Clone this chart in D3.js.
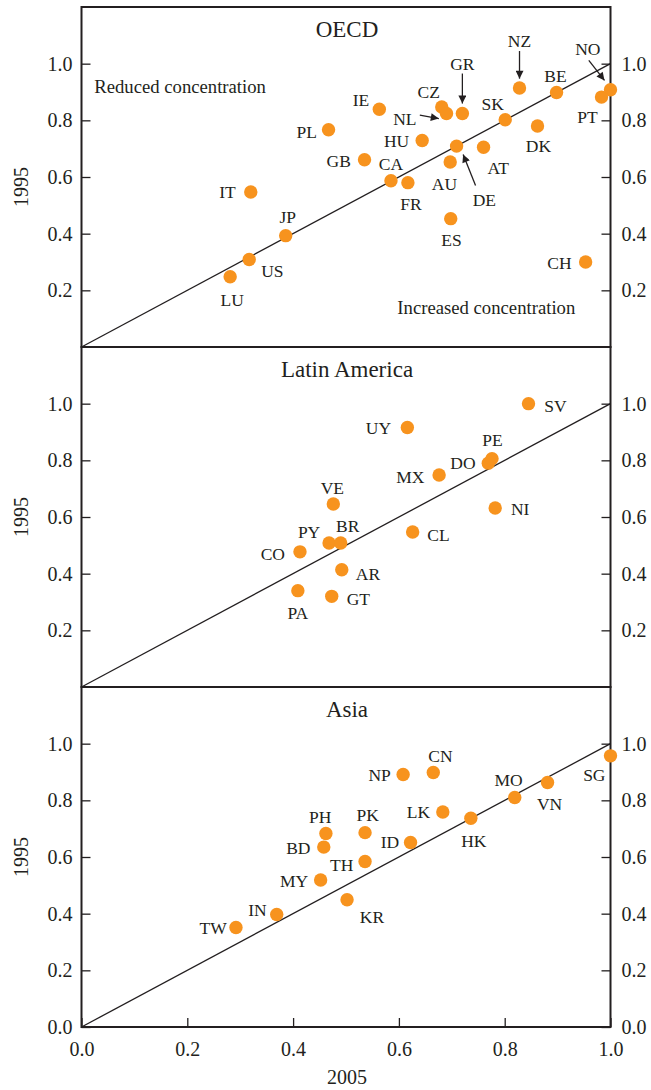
<!DOCTYPE html>
<html><head><meta charset="utf-8">
<script src="https://cdn.jsdelivr.net/npm/d3@7"></script>
<style>
html,body{margin:0;padding:0;background:#fff;}
svg text{font-family:"Liberation Serif","Times New Roman",serif;fill:#231f20;}
</style></head>
<body><svg id="chart" width="651" height="1090"></svg>
<script>
// ---------- DATA ----------
const panelTitles = ["OECD", "Latin America", "Asia"];

const oecdCodes = ["IT","JP","US","LU","PL","IE","CZ","NL","GR","NZ","BE","NO","PT","SK","DK","HU","DE","AT","GB","AU","CA","FR","ES","CH"];
const oecd2005  = [0.320,0.386,0.317,0.281,0.467,0.563,0.681,0.690,0.720,0.828,0.898,1.000,0.983,0.801,0.862,0.644,0.709,0.760,0.535,0.697,0.585,0.617,0.698,0.953];
const oecd1995  = [0.547,0.393,0.309,0.248,0.767,0.839,0.847,0.824,0.824,0.914,0.898,0.908,0.882,0.802,0.780,0.729,0.709,0.705,0.661,0.653,0.587,0.580,0.453,0.300];

const latamCodes = ["CO","PA","PY","VE","BR","AR","GT","CL","UY","MX","DO","PE","SV","NI"];
const latam2005  = [0.413,0.409,0.468,0.476,0.490,0.492,0.473,0.626,0.616,0.676,0.769,0.776,0.845,0.782];
const latam1995  = [0.477,0.340,0.508,0.646,0.508,0.414,0.320,0.547,0.916,0.748,0.790,0.806,1.000,0.632];

const asiaCodes = ["TW","IN","MY","BD","PH","PK","TH","KR","ID","NP","CN","LK","HK","MO","VN","SG"];
const asia2005  = [0.292,0.369,0.452,0.458,0.462,0.536,0.536,0.502,0.622,0.608,0.665,0.683,0.736,0.819,0.881,1.000];
const asia1995  = [0.351,0.397,0.519,0.635,0.683,0.686,0.584,0.449,0.651,0.891,0.898,0.759,0.737,0.810,0.863,0.957];

const xTicks = [0.0,0.2,0.4,0.6,0.8,1.0];
const yTicks = [0.2,0.4,0.6,0.8,1.0];
const yTicksBottom = [0.0,0.2,0.4,0.6,0.8,1.0];
const xLabel = "2005", yLabel = "1995";
const noteReduced = "Reduced concentration", noteIncreased = "Increased concentration";

// ---------- LAYOUT (label placement, separate from data) ----------
const labelPlace = {
  IT:[-15,5.5,"end"], JP:[2,-12.6,"middle"], US:[12,18,"start"], LU:[2,29,"middle"], PL:[-11.6,8,"end"],
  IE:[-10,-3,"end"], CZ:[-13,-9.4,"middle"], NL:[-30,11.7,"end"], GR:[0,-44,"middle"], NZ:[0,-41,"middle"],
  BE:[-1,-10.7,"middle"], NO:[-22.7,-34.3,"middle"], PT:[-14,26,"middle"], SK:[-12.5,-9.3,"middle"],
  DK:[1,26,"middle"], HU:[-13,6.7,"end"], DE:[27.8,60,"middle"], AT:[14.7,26.3,"middle"], GB:[-13.6,7.4,"end"],
  AU:[-5.8,27.6,"middle"], CA:[0,-11,"middle"], FR:[3,27.7,"middle"], ES:[0.7,27.4,"middle"], CH:[-14,6.6,"end"],
  CO:[-15,7.7,"end"], PA:[0,28.3,"middle"], PY:[-20,-5,"middle"], VE:[-1,-10.3,"middle"], BR:[7,-10.7,"middle"],
  AR:[14,10,"start"], GT:[15,9,"start"], CL:[14.6,8.7,"start"], UY:[-16.3,6.3,"end"], MX:[-14.7,8,"end"],
  DO:[-12.7,5.7,"end"], PE:[0.5,-12.3,"middle"], SV:[15.7,8.4,"start"], NI:[15.7,6.7,"start"],
  TW:[-9.3,6.7,"end"], IN:[-10,1.4,"end"], MY:[-12.4,6.6,"end"], BD:[-13.3,7.3,"end"], PH:[-5.7,-10.3,"middle"],
  PK:[2.7,-11.6,"middle"], TH:[-11.7,9.4,"end"], KR:[12.7,23.7,"start"], ID:[-11.4,5.7,"end"], NP:[-12.3,6.4,"end"],
  CN:[7.2,-11,"middle"], LK:[-12.7,5.6,"end"], HK:[3,28.7,"middle"], MO:[-6.2,-11.6,"middle"], VN:[2,27.4,"middle"],
  SG:[-5,25,"end"]
};
const arrowPlace = {
  NL:[-26.7,1.7,-7.7,5], GR:[0,-40,0,-10], NZ:[0,-37,0,-9.4], NO:[-21.7,-29.3,-6,-9.3], DE:[19,39.3,6.6,8.3]
};
const yLabelAt = [0.565, 0.6, 0.6];

const panels = [
  {title:panelTitles[0], codes:oecdCodes, xs:oecd2005, ys:oecd1995},
  {title:panelTitles[1], codes:latamCodes, xs:latam2005, ys:latam1995},
  {title:panelTitles[2], codes:asiaCodes, xs:asia2005, ys:asia1995}
];

const svg = d3.select("#chart");
const ink = "#231f20", orange = "#f7931e";
const left = 81.5, right = 610.5, panelH = 340, top0 = 7;
const x = d3.scaleLinear().domain([0,1]).range([left,right]);

svg.append("defs").append("marker")
  .attr("id","arr").attr("viewBox","0 0 10 10").attr("refX",10).attr("refY",5)
  .attr("markerWidth",11).attr("markerHeight",8).attr("markerUnits","userSpaceOnUse")
  .attr("orient","auto")
  .append("path").attr("d","M0,0L10,5L0,10Z").attr("fill",ink);

panels.forEach((p,i)=>{
  const top = top0 + i*panelH, bottom = top + panelH;
  const y = d3.scaleLinear().domain([0,1.2]).range([bottom, top]);
  const g = svg.append("g");
  const isLast = i===panels.length-1;

  // diagonal
  g.append("line").attr("x1",x(0)).attr("y1",y(0)).attr("x2",x(1)).attr("y2",y(1))
    .attr("stroke",ink).attr("stroke-width",1.3);

  // axes
  const la = g.append("g").attr("transform",`translate(${left},0)`)
    .call(d3.axisLeft(y).tickValues(isLast?yTicksBottom:yTicks).tickFormat(d3.format(".1f")).tickSize(-9).tickPadding(9));
  const ra = g.append("g").attr("transform",`translate(${right},0)`)
    .call(d3.axisRight(y).tickValues(isLast?yTicksBottom:yTicks).tickFormat(d3.format(".1f")).tickSize(-9).tickPadding(11));
  [la,ra].forEach(a=>{
    a.select(".domain").remove();
    a.selectAll("line").attr("stroke",ink).attr("stroke-width",1.3);
    a.selectAll("text").attr("font-size",20).attr("fill",ink)
      .style("font-family",'"Liberation Serif","Times New Roman",serif');
  });
  if(isLast){
    const ba = g.append("g").attr("transform",`translate(0,${bottom})`)
      .call(d3.axisBottom(x).tickValues(xTicks).tickFormat(d3.format(".1f")).tickSize(-9).tickPadding(15));
    ba.select(".domain").remove();
    ba.selectAll("line").attr("stroke",ink).attr("stroke-width",1.3);
    ba.selectAll("text").attr("font-size",20).attr("fill",ink)
      .style("font-family",'"Liberation Serif","Times New Roman",serif');
    svg.append("text").attr("x",347).attr("y",bottom+57).attr("text-anchor","middle")
      .attr("font-size",20).text(xLabel);
  }

  // frame
  g.append("rect").attr("x",left).attr("y",top).attr("width",right-left).attr("height",panelH)
    .attr("fill","none").attr("stroke",ink).attr("stroke-width",2);

  // titles
  g.append("text").attr("x",347).attr("y",top+30).attr("text-anchor","middle")
    .attr("font-size",23).text(p.title);
  g.append("text").attr("transform",`translate(28,${y(yLabelAt[i])}) rotate(-90)`).attr("text-anchor","middle")
    .attr("font-size",20).text(yLabel);

  if(i===0){
    g.append("text").attr("x",x(0.024)).attr("y",y(0.896)).attr("font-size",18.7).text(noteReduced);
    g.append("text").attr("x",x(0.597)).attr("y",y(0.118)).attr("font-size",18.7).text(noteIncreased);
  }

  const data = p.codes.map((c,k)=>({c, vx:p.xs[k], vy:p.ys[k]}));

  // arrows
  data.filter(d=>arrowPlace[d.c]).forEach(d=>{
    const a = arrowPlace[d.c], cx=x(d.vx), cy=y(d.vy);
    g.append("line").attr("x1",cx+a[0]).attr("y1",cy+a[1]).attr("x2",cx+a[2]).attr("y2",cy+a[3])
      .attr("stroke",ink).attr("stroke-width",1.3).attr("marker-end","url(#arr)");
  });

  g.selectAll("circle.pt").data(data).join("circle").attr("class","pt")
    .attr("cx",d=>x(d.vx)).attr("cy",d=>y(d.vy)).attr("r",6.7).attr("fill",orange);

  g.selectAll("text.lbl").data(data).join("text").attr("class","lbl")
    .attr("x",d=>x(d.vx)+labelPlace[d.c][0]).attr("y",d=>y(d.vy)+labelPlace[d.c][1])
    .attr("text-anchor",d=>labelPlace[d.c][2]).attr("font-size",17.5).text(d=>d.c);
});
</script></body></html>
